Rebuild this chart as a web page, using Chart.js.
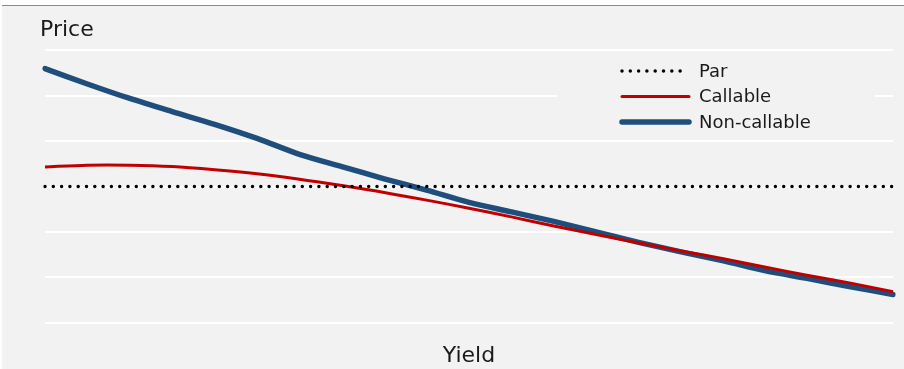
<!DOCTYPE html>
<html>
<head>
<meta charset="utf-8">
<title>Price / Yield</title>
<script src="https://cdn.jsdelivr.net/npm/chart.js@4.4.1/dist/chart.umd.min.js"></script>
<style>
  html, body { margin: 0; padding: 0; background: #fff; }
  #wrap {
    position: absolute; left: 2px; top: 5px;
    width: 902px; height: 363px;
    border-top: 1px solid #8a8a8a;
    background: #f2f2f2;
  }
  #chart { display: block; }
</style>
</head>
<body>
<div id="wrap"><canvas id="chart" width="902" height="363"></canvas></div>
<script>
'use strict'

// yield steps along the x axis (no tick labels drawn)
var yieldSteps = ['1', '2', '3', '4', '5', '6', '7', '8', '9', '10', '11',
    '12', '13', '14', '15', '16', '17', '18', '19', '20', '21']

var parValues = [100, 100, 100, 100, 100, 100, 100, 100, 100, 100, 100,
    100, 100, 100, 100, 100, 100, 100, 100, 100, 100]

var callableValues = [104.3, 104.7, 104.7, 104.4, 103.7, 102.8, 101.6, 100.2, 98.7, 97.0, 95.2,
    93.3, 91.3, 89.4, 87.6, 85.8, 84.1, 82.2, 80.4, 78.7, 76.8]

var nonCallableValues = [126.0, 122.6, 119.4, 116.5, 113.7, 110.6, 107.1, 104.4, 101.7, 99.2, 96.5,
    94.4, 92.3, 90.0, 87.7, 85.6, 83.6, 81.4, 79.7, 77.9, 76.2]

var priceMin = 70
var priceMax = 130
var priceStep = 10

var FONT = "'DejaVu Sans', sans-serif"

// Legend drawn inside the plot, on its own patch of background
var innerLegend = {
    id: 'innerLegend',
    afterDatasetsDraw: function (chart) {
        var ctx = chart.ctx
        var x0 = 555, y0 = 49
        ctx.save()
        ctx.fillStyle = '#f2f2f2'
        ctx.fillRect(x0, y0, 318, 83)
        ctx.font = '18px ' + FONT
        ctx.textBaseline = 'middle'
        chart.data.datasets.forEach(function (ds, i) {
            var y = y0 + 16 + i * 25.5
            ctx.beginPath()
            ctx.strokeStyle = ds.borderColor
            ctx.lineWidth = ds.borderWidth
            ctx.lineCap = 'round'
            ctx.setLineDash(ds.borderDash || [])
            ctx.moveTo(x0 + 65, y)
            ctx.lineTo(x0 + 132 + (i === 0 ? -4 : 0), y)
            ctx.stroke()
            ctx.setLineDash([])
            ctx.fillStyle = '#1a1a1a'
            ctx.fillText(ds.label, x0 + 142, y + 1)
        })
        ctx.restore()
    }
}

var ctx = document.getElementById('chart').getContext('2d')

new Chart(ctx, {
    type: 'line',
    data: {
        labels: yieldSteps,
        datasets: [{
            label: 'Par',
            data: parValues,
            borderColor: '#000000',
            borderWidth: 3.5,
            borderDash: [0, 8.3],
            borderCapStyle: 'round',
            pointRadius: 0,
            tension: 0
        }, {
            label: 'Callable',
            data: callableValues,
            borderColor: '#c00000',
            borderWidth: 3,
            pointRadius: 0,
            tension: 0.3
        }, {
            label: 'Non-callable',
            data: nonCallableValues,
            borderColor: '#1f4e7c',
            borderWidth: 5.5,
            borderCapStyle: 'round',
            pointRadius: 0,
            tension: 0.3
        }]
    },
    options: {
        responsive: false,
        animation: false,
        layout: {
            padding: { left: 38, right: 11, top: 0, bottom: 0 }
        },
        plugins: {
            legend: { display: false },
            tooltip: { enabled: false },
            title: {
                display: true,
                text: 'Price',
                align: 'start',
                color: '#1a1a1a',
                font: { family: FONT, size: 22, weight: 'normal', lineHeight: 1.2 },
                padding: { top: 11, bottom: 7 }
            }
        },
        scales: {
            x: {
                offset: false,
                grid: { display: false, drawTicks: false },
                border: { display: false },
                ticks: { display: false },
                title: {
                    display: true,
                    text: 'Yield',
                    color: '#1a1a1a',
                    font: { family: FONT, size: 22, weight: 'normal', lineHeight: 1.2 },
                    padding: { top: 20, bottom: 0 }
                }
            },
            y: {
                min: priceMin,
                max: priceMax,
                afterFit: function (scale) { scale.width = 5 },
                grid: { color: '#ffffff', lineWidth: 2, drawTicks: false },
                border: { display: false },
                ticks: { display: false, stepSize: priceStep }
            }
        }
    },
    plugins: [innerLegend]
})
</script>
</body>
</html>
